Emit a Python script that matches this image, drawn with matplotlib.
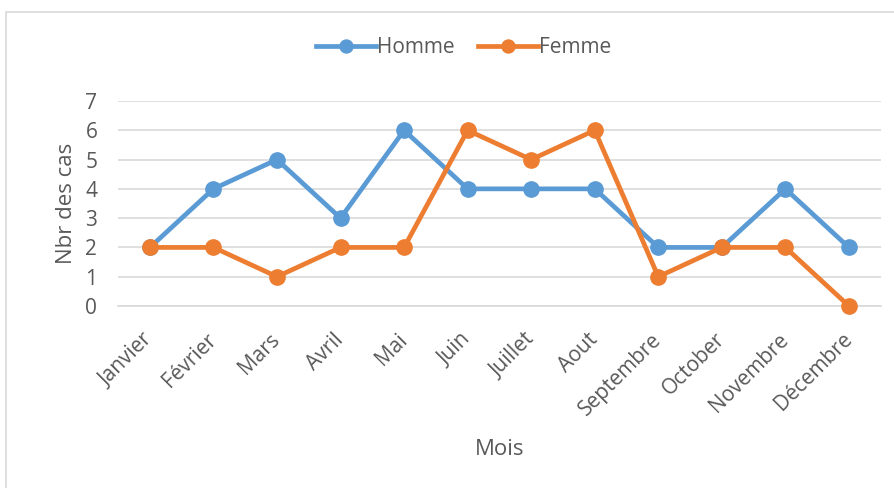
import numpy as np
import matplotlib.pyplot as plt
from matplotlib.patches import Rectangle

plt.rcParams['font.family'] = ['Open Sans', 'DejaVu Sans']

mois = ['Janvier', 'Février', 'Mars', 'Avril', 'Mai', 'Juin', 'Juillet',
        'Aout', 'Septembre', 'October', 'Novembre', 'Décembre']
homme = [2, 4, 5, 3, 6, 4, 4, 4, 2, 2, 4, 2]
femme = [2, 2, 1, 2, 2, 6, 5, 6, 1, 2, 2, 0]

bleu = '#5B9BD5'
orange = '#ED7D31'
gris = '#595959'

fig = plt.figure(figsize=(8.95, 4.88), dpi=100)
ax = fig.add_axes([0.132, 0.373, 0.852, 0.42])

x = np.arange(len(mois))
ax.plot(x, homme, color=bleu, lw=3.4, marker='o', ms=11, label='Homme',
        clip_on=False, zorder=3)
ax.plot(x, femme, color=orange, lw=3.4, marker='o', ms=11, label='Femme',
        clip_on=False, zorder=4)

ax.set_xlim(-0.5, len(mois) - 0.5)
ax.set_ylim(0, 7)
ax.set_yticks(range(0, 8))
ax.yaxis.grid(True, color='#D9D9D9', lw=1.2)
ax.set_axisbelow(True)
for s in ax.spines.values():
    s.set_visible(False)
ax.spines['bottom'].set_visible(True)
ax.spines['bottom'].set_color('#D9D9D9')
ax.spines['bottom'].set_linewidth(1.2)
ax.tick_params(length=0, labelsize=15, colors=gris)
ax.tick_params(axis='y', pad=15)
ax.tick_params(axis='x', pad=22)
ax.set_xticks(x)
ax.set_xticklabels(mois, rotation=45, ha='right', va='center',
                   rotation_mode='anchor')
ax.set_ylabel('Nbr des cas', fontsize=16, color=gris, labelpad=6)
ax.set_xlabel('Mois', fontsize=16, color=gris, labelpad=14)

leg = fig.legend(loc='center', bbox_to_anchor=(0.518, 0.902), ncol=2,
                 frameon=False, fontsize=15, handlelength=2.9,
                 handletextpad=0.05, columnspacing=1.1, markerscale=0.85)
for t in leg.get_texts():
    t.set_color(gris)

fig.patches.append(Rectangle((6.5 / 895, -0.1), 1.2, 1 - 12 / 488 + 0.1,
                             transform=fig.transFigure, fill=False,
                             edgecolor='#D9D9D9', lw=1.2))

fig.savefig('out.png', dpi=100)
